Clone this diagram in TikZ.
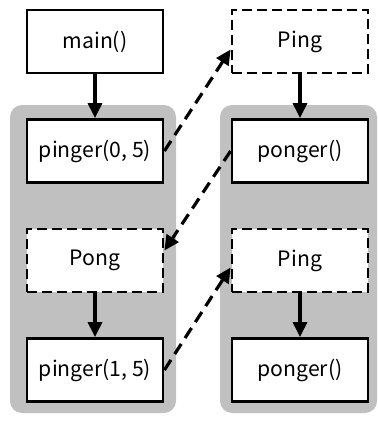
\documentclass[tikz,border=0pt]{standalone}
\usepackage{fontspec}
\setmainfont{Noto Sans CJK JP}
\usetikzlibrary{arrows.meta}

\definecolor{lane}{RGB}{192,192,192}

\begin{document}
\begin{tikzpicture}[x=0.5pt,y=-0.5pt,
		box/.style={draw,line width=1.4pt,fill=white,minimum width=68pt,minimum height=31.5pt,font=\fontsize{10.6}{13}\selectfont},
		msg/.style={box,dash pattern=on 5pt off 2.5pt}]
			\useasboundingbox (0,0) rectangle (378,423);
			\fill[lane,rounded corners=6pt] (10,105) rectangle (176,413);
			\fill[lane,rounded corners=6pt] (220,105) rectangle (377,413);

			\node[box] (main)    at (95 ,  41.5)  {main()};
			\node[box] (pinger0) at (95 ,  151)   {pinger(0, 5)};
			\node[msg] (pong)    at (95 ,  260.5) {Pong};
			\node[box] (pinger1) at (95 ,  370)   {pinger(1, 5)};
			\node[msg] (ping0)   at (300,  41.5)  {Ping};
			\node[box] (ponger0) at (300,  151)   {ponger()};
			\node[msg] (ping1)   at (300,  260.5) {Ping};
			\node[box] (ponger1) at (300,  370)   {ponger()};

			\def\calls {main/pinger0, pong/pinger1, ping0/ponger0, ping1/ponger1}  % solid, downwards
			\foreach \u/\v in \calls
			{	\draw[line width=1.6pt,-{Triangle[length=7.5pt,width=7pt]}] (\u) -- (\v);
			}
			\def\sends {pinger0.east/ping0.west/-4pt, ponger0.west/pong.east/5pt, pinger1.east/ping1.west/-3.5pt}  % dashed, across lanes
			\foreach \u/\v/\dy in \sends
			{	\draw[line width=1.6pt,dash pattern=on 6pt off 3.5pt,-{Triangle[length=7.5pt,width=7pt]}] (\u) -- ([yshift=\dy]\v);
			}
		\end{tikzpicture}
\end{document}
